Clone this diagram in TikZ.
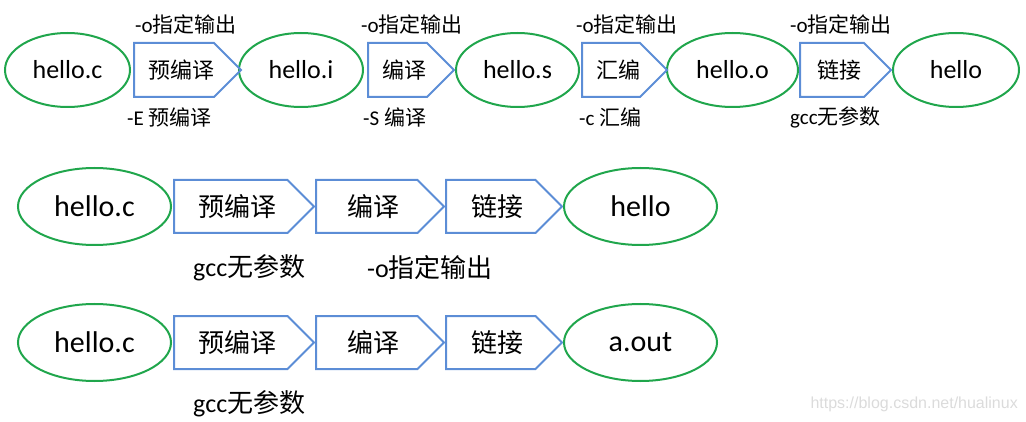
\documentclass[tikz,border=0pt]{standalone}
\usepackage{fontspec}
\setmainfont{Carlito}
\newfontfamily\cjk{Noto Sans CJK SC}
\newfontfamily\wmfont{Liberation Sans}
\usetikzlibrary{shapes.geometric,shapes.symbols}

\definecolor{filegreen}{RGB}{32,166,76}
\definecolor{stageblue}{RGB}{92,141,214}
\newcommand{\zh}[1]{{\cjk #1}}
\newcommand{\fs}[1]{\fontsize{#1}{#1}\selectfont}

\tikzset{
  file/.style={ellipse, draw=filegreen, line width=2pt, inner sep=0pt},
  stage/.style={signal, signal to=east, signal pointer angle=90,
    draw=stageblue, line width=2pt, inner sep=0pt, anchor=west,
    execute at begin node=\hspace*{14pt}},
  opt/.style={anchor=west, inner sep=0pt},
}

\begin{document}
\begin{tikzpicture}[x=1pt, y=-1pt]
  \useasboundingbox (0,0) rectangle (1026,422);

  % Row 1: every step with its own option
  \begin{scope}[every node/.append style={font=\fs{26}}]
    \node[file, minimum width=125pt, minimum height=74pt] (src) at (67.5,70) {hello.c};
    \node[file, minimum width=124pt, minimum height=74pt] (ifile) at (301,70) {hello.i};
    \node[file, minimum width=123pt, minimum height=74pt] (sfile) at (517.5,70) {hello.s};
    \node[file, minimum width=131pt, minimum height=74pt] (ofile) at (732.5,70) {hello.o};
    \node[file, minimum width=126pt, minimum height=74pt] (exe) at (956,70) {hello};
  \end{scope}
  \begin{scope}[every node/.append style={font=\fs{22}}]
    \node[stage, minimum width=103pt, minimum height=54pt] (pre) at (133,70) {\zh{预编译}};
    \node[stage, minimum width=86pt, minimum height=54pt] (comp) at (367,70) {\zh{编译}};
    \node[stage, minimum width=83pt, minimum height=54pt] (asm) at (581,70) {\zh{汇编}};
    \node[stage, minimum width=91pt, minimum height=54pt] (link) at (799,70) {\zh{链接}};
  \end{scope}

  % options above and below
  \begin{scope}[every node/.append style={opt, font=\fs{21}}]
    \foreach \x in {135, 361, 576, 790}
      \node at (\x,24) {-o\zh{指定输出}};
    \node (optE) at (127,117) {-E \zh{预编译}};
    \node (optS) at (363,117) {-S \zh{编译}};
    \node (optC) at (579,117) {-c \zh{汇编}};
    \node (optLd) at (790,117) {gcc\zh{无参数}};
  \end{scope}

  % Rows 2 and 3: whole pipeline at once
  \foreach \r/\y/\out in {B/206.5/hello, C/342.5/a.out} {
    \node[file, minimum width=153pt, minimum height=77pt, font=\fs{30}] (src\r) at (94.5,\y) {hello.c};
    \node[stage, minimum width=140pt, minimum height=53pt, font=\fs{26}] (pre\r) at (173,\y) {\zh{预编译}};
    \node[stage, minimum width=128pt, minimum height=53pt, font=\fs{26}] (comp\r) at (315,\y) {\zh{编译}};
    \node[stage, minimum width=116pt, minimum height=53pt, font=\fs{26}] (link\r) at (445,\y) {\zh{链接}};
    \node[file, minimum width=153pt, minimum height=77pt, font=\fs{30}] (exe\r) at (640.5,\y) {\out};
  }
  \node[opt, font=\fs{26}] (gccB) at (193,268) {gcc\zh{无参数}};
  \node[opt, font=\fs{26}] (outB) at (367,268) {-o\zh{指定输出}};
  \node[opt, font=\fs{26}] (gccC) at (193,403.5) {gcc\zh{无参数}};

  % watermark
  \node[anchor=east, inner sep=0pt, text=black!14, font=\wmfont\fs{16}] (mark) at (1018,404) {https://blog.csdn.net/hualinux};
\end{tikzpicture}
\end{document}
